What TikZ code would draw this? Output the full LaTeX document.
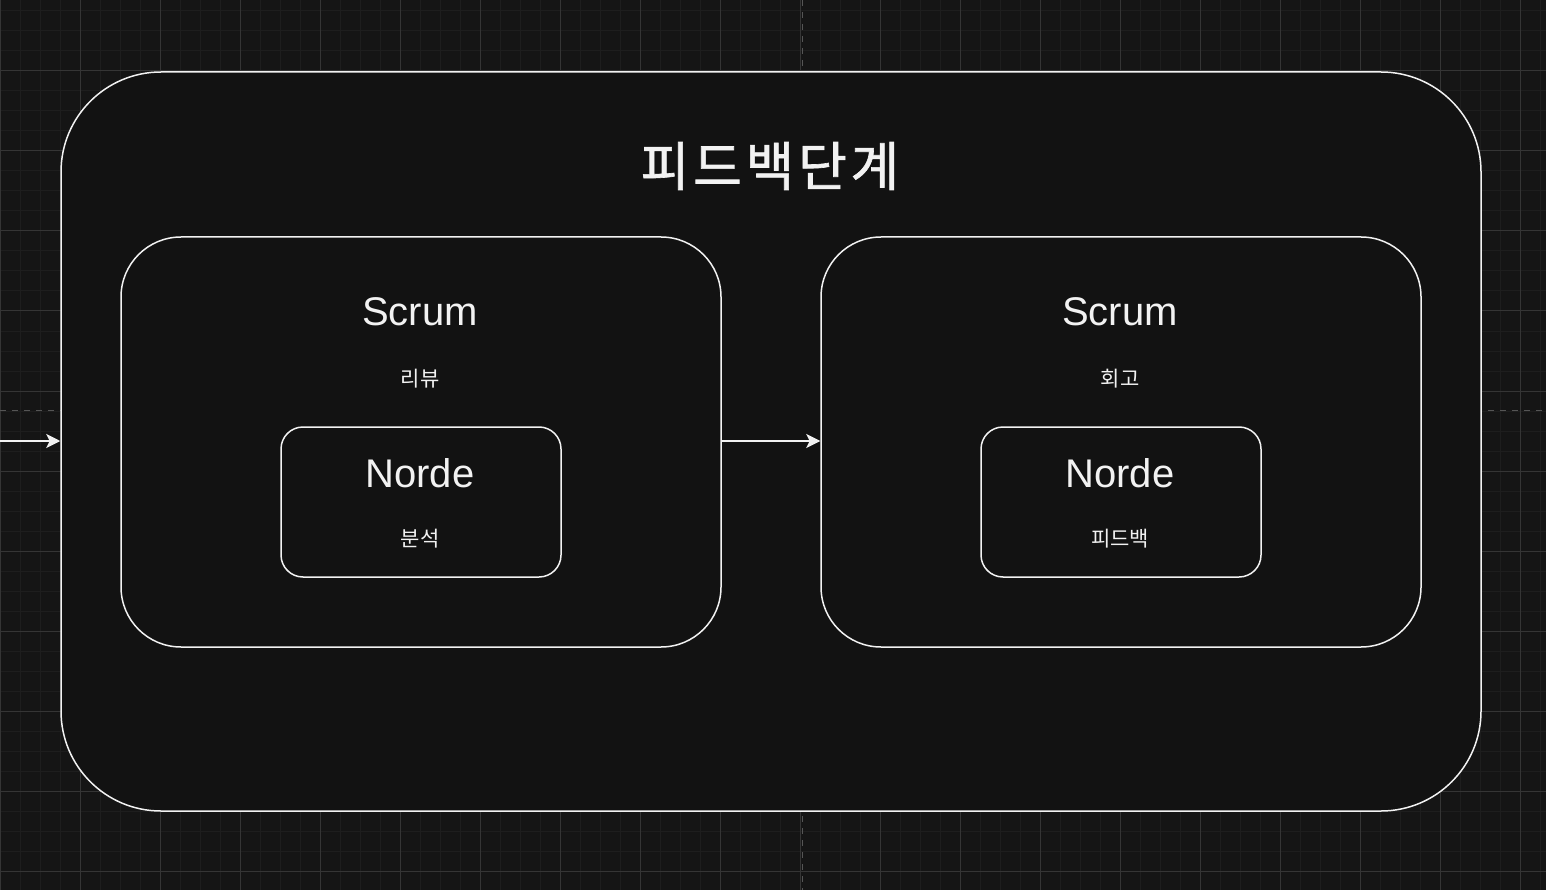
\documentclass[tikz,border=0pt]{standalone}
\usepackage{fontspec}
\setmainfont{Liberation Sans}
\newfontfamily\kr{Noto Sans CJK KR}
\newfontfamily\krtitle[LetterSpace=7,FakeBold=1.2]{Noto Sans CJK KR}
\usetikzlibrary{arrows.meta}
\definecolor{bg}{HTML}{151515}
\definecolor{boxfill}{HTML}{121212}
\definecolor{gridminor}{HTML}{1E1E1E}
\definecolor{gridmajor}{HTML}{353535}
\definecolor{guide}{HTML}{555555}
\definecolor{ink}{HTML}{F2F2F2}
\tikzset{
  frame/.style={draw=ink, line width=1.5pt, fill=boxfill, inner sep=0pt},
  outerbox/.style={frame, minimum width=1420pt, minimum height=739pt, rounded corners=100pt},
  midbox/.style={frame, minimum width=600pt, minimum height=410pt, rounded corners=60pt},
  innerbox/.style={frame, minimum width=280pt, minimum height=150pt, rounded corners=22pt},
  big/.style={text=ink, font=\fontsize{40}{44}\selectfont, inner sep=0pt},
  title/.style={text=ink, font=\krtitle\fontsize{53}{56}\selectfont, inner sep=0pt},
  small/.style={text=ink, font=\kr\fontsize{21}{24}\selectfont, inner sep=0pt},
  conn/.style={draw=ink, line width=1.5pt, -{Stealth[length=14pt,width=14pt,inset=3.5pt]}},
}
\begin{document}
\begin{tikzpicture}[x=1pt,y=-1pt]
\fill[bg] (0,0) rectangle (1546,890);
\useasboundingbox (0,0) rectangle (1546,890);
% grid
\foreach \x in {0,20,...,1540} {\draw[gridminor, line width=1pt] (\x,0) -- (\x,890);}
\foreach \y in {11,31,...,890} {\draw[gridminor, line width=1pt] (0,\y) -- (1546,\y);}
\foreach \x in {0,80,...,1540} {\draw[gridmajor, line width=1pt] (\x,0) -- (\x,890);}
\foreach \y in {71,151,...,890} {\draw[gridmajor, line width=1pt] (0,\y) -- (1546,\y);}
% guides
\draw[guide, line width=1pt, dash pattern=on 6pt off 6pt] (802.5,0) -- (802.5,890);
\draw[guide, line width=1pt, dash pattern=on 6pt off 6pt] (0,410) -- (1546,410);
% boxes
\node[outerbox] (outer) at (771,441.5) {};
\node[title] (ttl) at (770,166) {피드백단계};
\node[midbox] (review) at (421,442) {};
\node[midbox] (retro) at (1121,442) {};
\node[innerbox] (analysis) at (421,502) {};
\node[innerbox] (feedback) at (1121,502) {};
% texts
\node[big, anchor=base] (s1) at (420,326) {Scrum};
\node[small] (k1) at (420,379) {리뷰};
\node[big, anchor=base] (n1) at (420,487) {Norde};
\node[small] (k2) at (420,539) {분석};
\node[big, anchor=base] (s2) at (1120,326) {Scrum};
\node[small] (k3) at (1120,379) {회고};
\node[big, anchor=base] (n2) at (1120,487) {Norde};
\node[small] (k4) at (1120,539) {피드백};
% connectors
\coordinate (start) at (0,441);
\draw[conn] (start) -- (outer.west |- start);
\draw[conn] (review.east |- start) -- (retro.west |- start);
\end{tikzpicture}
\end{document}
